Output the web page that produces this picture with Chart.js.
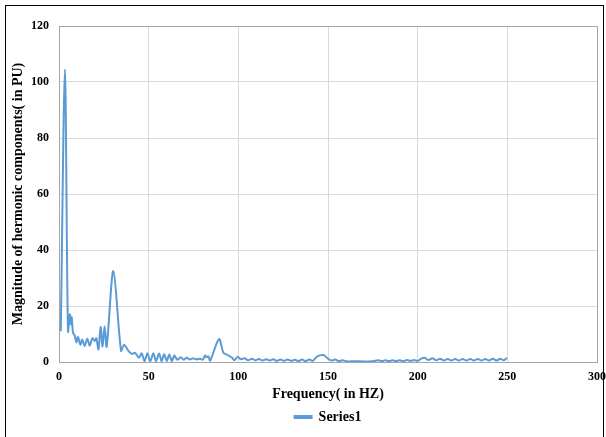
<!DOCTYPE html>
<html lang="en">
<head>
    <meta charset="UTF-8">
    <title>Magnitude of hermonic components</title>
    <script src="https://cdn.jsdelivr.net/npm/chart.js"></script>
    <style>
        html, body { margin: 0; padding: 0; background: #fff; overflow: hidden; }
        #frame { position: absolute; left: 5px; top: 5px; width: 597px; height: 450px;
                 border: 1px solid #000; border-bottom: none; }
        #wrap { position: absolute; left: 0; top: 0; width: 606px; height: 437px; }
    </style>
</head>
<body>
    <div id="frame"></div>
    <div id="wrap"><canvas id="myChart" width="606" height="437"></canvas></div>

    <script>
        // values (frequency in Hz, magnitude in PU)
        const freq = [
            1.0, 3.3, 5.0, 6.1, 6.7, 7.1, 7.8, 8.7, 9.7, 10.6, 11.9, 13.0, 14.3, 15.8, 17.1, 18.6,
            19.9, 20.8, 22.0, 23.2, 24.3, 25.4, 26.6, 30.3, 34.6, 36.3, 38.7, 40.5, 42.4, 44.6,
            46.1, 47.7, 49.3, 50.9, 52.6, 54.1, 55.8, 57.2, 58.6, 60.1, 61.5, 62.9, 64.3, 66.0,
            67.9, 69.5, 71.2, 73.0, 74.9, 76.7, 78.6, 80.1, 81.4, 82.4, 83.3, 84.3, 89.2, 91.7,
            94.0, 96.4, 97.9, 99.6, 101.4, 103.5, 105.5, 107.5, 109.5, 111.5, 113.5, 115.5, 117.5,
            119.5, 121.5, 123.5, 125.5, 127.5, 129.5, 131.5, 133.5, 135.5, 137.5, 139.5, 141.5,
            144.0, 147.4, 150.0, 152.0, 154.0, 156.0, 158.0, 161.0, 165.0, 170.0, 175.0, 178.0,
            180.0, 182.0, 184.0, 186.0, 188.0, 190.0, 192.0, 194.0, 196.0, 198.0, 200.0, 202.0,
            204.0, 206.0, 208.3, 210.4, 212.5, 214.6, 216.7, 218.8, 220.9, 223.0, 225.1, 227.2,
            229.3, 231.4, 233.5, 235.6, 237.7, 239.8, 241.9, 244.0, 246.1, 248.0, 249.7
        ];
        const magnitude = [
            11, 104.5, 11, 17, 13.5, 16, 10.5, 9.5, 7, 9, 6.2, 8, 5.7, 8.3, 5.8, 8.5,
            7.5, 8.5, 4.5, 12.5, 5.5, 12.8, 5.5, 32.5, 4, 6.2, 4, 2.9, 3.3, 1.5,
            3.1, 0.3, 3.1, 0.3, 3.1, 0.3, 3.0, 0.3, 2.8, 0.4, 2.7, 0.3, 2.3, 0.8,
            1.7, 0.8, 1.5, 0.9, 1.3, 0.9, 1.2, 0.8, 2.3, 1.7, 2.0, 0.5, 8.2, 3.3,
            2.5, 1.6, 0.6, 1.9, 1.0, 1.3, 0.6, 1.2, 0.6, 1.1, 0.5, 1.0, 0.5,
            1.0, 0.4, 0.9, 0.4, 0.9, 0.4, 0.8, 0.3, 0.9, 0.3, 0.9, 0.4,
            2.0, 2.5, 1.2, 0.5, 0.9, 0.3, 0.6, 0.2, 0.3, 0.2, 0.3, 0.6,
            0.3, 0.6, 0.3, 0.6, 0.3, 0.6, 0.3, 0.7, 0.4, 0.7, 0.4, 1.2,
            1.5, 0.7, 1.3, 0.6, 1.2, 0.5, 1.1, 0.5, 1.1, 0.5, 1.1, 0.5,
            1.1, 0.5, 1.1, 0.5, 1.1, 0.5, 1.2, 0.5, 1.2, 0.6, 1.5
        ];
        const seriesName = 'Series1';
        const xTitle = 'Frequency( in HZ)';
        const yTitle = 'Magnitude of hermonic components( in PU)';

        const points = freq.map((f, i) => ({ x: f, y: magnitude[i] }));
        const serif = '"Liberation Serif", "Times New Roman", serif';

        // grey box round the plot area, like the spreadsheet chart
        const plotBorder = {
            id: 'plotBorder',
            afterDraw(chart) {
                const a = chart.chartArea;
                const c = chart.ctx;
                c.save();
                c.strokeStyle = '#a6a6a6';
                c.lineWidth = 1;
                c.strokeRect(a.left + 0.5, a.top + 0.5, a.right - a.left, a.bottom - a.top);
                c.restore();
            }
        };

        const ctx = document.getElementById('myChart').getContext('2d');
        const myChart = new Chart(ctx, {
            type: 'line',
            data: {
                datasets: [{
                    label: seriesName,
                    data: points,
                    borderColor: '#5B9BD5',
                    backgroundColor: '#5B9BD5',
                    borderWidth: 2,
                    pointRadius: 0,
                    fill: false,
                    tension: 0.3
                }]
            },
            options: {
                responsive: false,
                animation: false,
                layout: { padding: { left: 10, right: 1, top: 26, bottom: 3 } },
                plugins: {
                    tooltip: { enabled: false },
                    legend: {
                        position: 'bottom',
                        fullSize: false,
                        labels: {
                            boxWidth: 17,
                            boxHeight: 2,
                            padding: 7,
                            color: '#000',
                            font: { family: serif, size: 14, weight: 'bold' }
                        }
                    }
                },
                scales: {
                    x: {
                        type: 'linear',
                        min: 0,
                        max: 300,
                        ticks: { stepSize: 50, padding: 8, color: '#000',
                                 font: { family: serif, size: 12, weight: 'bold' } },
                        grid: { color: '#d9d9d9', drawTicks: false },
                        border: { color: '#a6a6a6' },
                        title: { display: true, text: xTitle, color: '#000',
                                 padding: { top: 0, bottom: 0 },
                                 font: { family: serif, size: 14, weight: 'bold' } },
                        afterFit: function (scale) {
                            scale.height = 41;
                            scale.paddingRight = 9;
                            scale.paddingLeft = 0;
                        }
                    },
                    y: {
                        min: 0,
                        max: 120,
                        ticks: { stepSize: 20, padding: 10, color: '#000',
                                 font: { family: serif, size: 12, weight: 'bold' } },
                        grid: { color: '#d9d9d9', drawTicks: false },
                        border: { color: '#a6a6a6' },
                        title: { display: true, text: yTitle, color: '#000',
                                 padding: { top: 0, bottom: 0 },
                                 font: { family: serif, size: 14, weight: 'bold' } },
                        afterFit: function (scale) { scale.width = 49; }
                    }
                }
            },
            plugins: [plotBorder]
        });
    </script>
</body>
</html>
